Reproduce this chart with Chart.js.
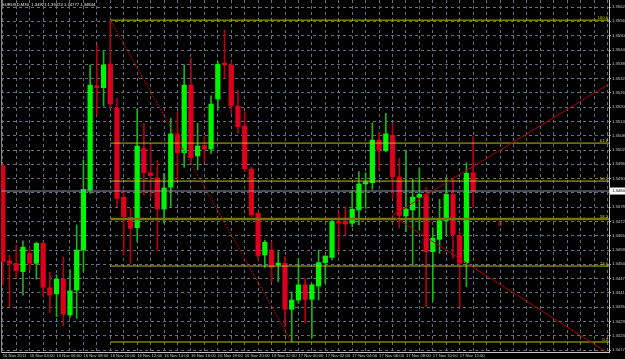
<!DOCTYPE html>
<html><head><meta charset="utf-8">
<style>html,body{margin:0;padding:0;background:#000;overflow:hidden}</style>
<script src="https://cdn.jsdelivr.net/npm/chart.js@4/dist/chart.umd.min.js"></script>
</head><body>
<canvas id="c" width="625" height="359"></canvas>
<script>
const titleText = 'EURUSD,M30  1.34921 1.35074 1.34777 1.34844';
const opens = [1.34950,1.34549,1.34539,1.34504,1.34581,1.34539,1.34623,1.34436,1.34410,1.34472,
1.34321,1.34426,1.34595,1.34848,1.35288,1.35280,1.35380,1.35193,1.34818,1.34733,
1.34689,1.35024,1.34921,1.34900,1.34768,1.34860,1.35085,1.35006,1.35291,1.34992,
1.35035,1.35021,1.35232,1.35383,1.35376,1.35203,1.35118,1.34937,1.34750,1.34574,
1.34595,1.34532,1.34539,1.34345,1.34384,1.34448,1.34387,1.34443,1.34542,1.34564,
1.34715,1.34715,1.34708,1.34764,1.34874,1.34879,1.35059,1.35014,1.35079,1.34904,
1.34739,1.34764,1.34818,1.34830,1.34588,1.34640,1.34719,1.34830,1.34656,1.34542,1.34921];
const highs = [1.34958,1.34574,1.34616,1.34634,1.34604,1.34629,1.34627,1.34501,1.34490,1.34567,
1.34511,1.34701,1.34975,1.35376,1.35460,1.35436,1.35561,1.35235,1.34848,1.34771,
1.35189,1.35130,1.35045,1.34972,1.34919,1.35151,1.35179,1.35376,1.35404,1.35130,
1.35073,1.35246,1.35390,1.35523,1.35390,1.35270,1.35179,1.34945,1.34757,1.34637,
1.34630,1.34588,1.34567,1.34419,1.34560,1.34476,1.34452,1.34595,1.34570,1.34729,
1.34757,1.34778,1.34845,1.34926,1.34921,1.35132,1.35094,1.35172,1.35130,1.34982,
1.35017,1.34895,1.34942,1.34860,1.34689,1.34809,1.34902,1.34900,1.34672,1.34964,1.35074];
const lows = [1.34448,1.34356,1.34477,1.34405,1.34511,1.34472,1.34398,1.34331,1.34314,1.34275,
1.34311,1.34307,1.34504,1.34834,1.35165,1.35203,1.35194,1.34778,1.34574,1.34539,
1.34630,1.34827,1.34820,1.34592,1.34708,1.34778,1.34891,1.34944,1.34962,1.34933,
1.34968,1.35003,1.35186,1.35320,1.35172,1.35088,1.34926,1.34736,1.34553,1.34522,
1.34461,1.34461,1.34272,1.34207,1.34370,1.34288,1.34224,1.34384,1.34455,1.34553,
1.34588,1.34658,1.34693,1.34701,1.34771,1.34851,1.34933,1.35010,1.34813,1.34687,
1.34672,1.34532,1.34680,1.34356,1.34380,1.34581,1.34658,1.34560,1.34356,1.34440,1.34777];
const closes = [1.34546,1.34539,1.34508,1.34607,1.34539,1.34623,1.34438,1.34405,1.34472,1.34324,
1.34423,1.34595,1.34851,1.35291,1.35280,1.35376,1.35211,1.34813,1.34736,1.34687,
1.35034,1.34921,1.34909,1.34768,1.34857,1.35085,1.35006,1.35291,1.34985,1.35034,
1.35021,1.35211,1.35379,1.35376,1.35203,1.35115,1.34937,1.34743,1.34571,1.34628,
1.34522,1.34540,1.34345,1.34384,1.34448,1.34387,1.34448,1.34542,1.34570,1.34715,
1.34708,1.34705,1.34767,1.34874,1.34883,1.35059,1.35017,1.35085,1.34904,1.34741,
1.34768,1.34818,1.34830,1.34588,1.34645,1.34719,1.34830,1.34661,1.34539,1.34919,1.34844];
const timeLabels = ['16 Nov 2011','16 Nov 04:00','16 Nov 06:00','16 Nov 08:00','16 Nov 10:00','16 Nov 12:00',
'16 Nov 14:00','16 Nov 16:00','16 Nov 18:00','16 Nov 20:00','16 Nov 22:00','17 Nov 00:00',
'17 Nov 02:00','17 Nov 04:00','17 Nov 06:00','17 Nov 08:00','17 Nov 10:00','17 Nov 12:00'];
const priceTicks = [1.35620,1.35560,1.35499,1.35439,1.35379,1.35318,1.35258,1.35198,1.35138,1.35077,
1.35017,1.34957,1.34896,1.34836,1.34776,1.34715,1.34655,1.34595,1.34535,1.34474,
1.34414,1.34354,1.34293,1.34233,1.34173];
const fibLevels = [0, 23.6, 38.2, 50, 61.8, 100];
const fibAnchorBars = [16, 43];
const fibAnchorPrices = [1.35565, 1.34207];
const rayApex = [57.93, 1.34740];
const rayUpPoint = [85.91, 1.35221];
const rayDownPoint = [84.68, 1.34258];
const markPoint = [74.0, 1.34705];

const N = opens.length;
const idx = opens.map((_, i) => i);
const isBull = i => closes[i] >= opens[i];
const fibPrice = l => fibAnchorPrices[1] + (fibAnchorPrices[0] - fibAnchorPrices[1]) * l / 100;
const ray = (a, b, toX) => [{x:a[0], y:a[1]}, {x:toX, y:a[1] + (b[1]-a[1])/(b[0]-a[0])*(toX-a[0])}];
const FONT = '"Liberation Sans", Arial, sans-serif';
const GRID = '#627081';

const datasets = [];
datasets.push({
  type:'bar', label:'wick', order:5, grouped:false,
  data: idx.map(i => ({x:i, y:[lows[i], highs[i]]})),
  backgroundColor: idx.map(i => isBull(i) ? '#1cb41c' : '#b4001a'),
  barThickness: 1
});
datasets.push({
  type:'bar', label:'body', order:4, grouped:false,
  data: idx.map(i => ({x:i, y:[opens[i], closes[i]]})),
  backgroundColor: idx.map(i => isBull(i) ? '#00f500' : '#dc001e'),
  barThickness: 4.6, minBarLength: 1
});
fibLevels.forEach(l => {
  const thick = l === 38.2;
  datasets.push({
    type:'line', label:'fib'+l, order:2,
    data:[{x:fibAnchorBars[0], y:fibPrice(l)}, {x:200, y:fibPrice(l)}],
    borderColor: thick ? '#767600' : '#bcbc0c', borderWidth: thick ? 2.6 : 1,
    pointRadius:0
  });
});
datasets.push({
  type:'line', label:'fibline', order:1,
  data: fibAnchorBars.map((b, k) => ({x:b, y:fibAnchorPrices[k]})),
  borderColor:'#b80000', borderWidth:1.2, borderDash:[1.5,1.5], pointRadius:0
});
datasets.push({
  type:'line', label:'bid', order:3,
  data:[{x:-5, y:closes[N-1]}, {x:200, y:closes[N-1]}],
  borderColor:'#8e99a6', borderWidth:1, pointRadius:0
});
datasets.push({
  type:'line', label:'rayUp', order:1, data: ray(rayApex, rayUpPoint, 120),
  borderColor:'#b00000', borderWidth:1, pointRadius:0
});
datasets.push({
  type:'line', label:'rayDown', order:1, data: ray(rayApex, rayDownPoint, 120),
  borderColor:'#b00000', borderWidth:1, pointRadius:0
});
datasets.push({
  type:'scatter', label:'mark', order:1, data:[{x:markPoint[0], y:markPoint[1]}],
  pointStyle:'circle', pointRadius:1.6, borderColor:'#c00000', borderWidth:1, backgroundColor:'transparent'
});

const overlay = {
  id:'overlay',
  afterDatasetsDraw(chart){
    const {ctx, chartArea:a, scales:{y}} = chart;
    ctx.save();
    ctx.beginPath(); ctx.rect(a.left, a.top, a.right-a.left, a.bottom-a.top); ctx.clip();
    ctx.font = '4.2px ' + FONT;
    ctx.fillStyle = '#d0d000';
    ctx.textAlign = 'right'; ctx.textBaseline = 'bottom';
    fibLevels.forEach(l => {
      ctx.fillText(l.toFixed(1), a.right - 1, y.getPixelForValue(fibPrice(l)) - 0.5);
    });
    ctx.restore();
  },
  afterDraw(chart){
    const {ctx, chartArea:a, scales:{y}} = chart;
    ctx.save();
    ctx.font = '4.2px ' + FONT;
    ctx.fillStyle = '#e8e8e8';
    ctx.textAlign = 'left'; ctx.textBaseline = 'middle';
    ctx.fillText(titleText, 2, 5);
    const py = y.getPixelForValue(closes[N-1]);
    ctx.fillStyle = '#ffffff';
    ctx.fillRect(a.right + 1, py - 3.5, 30, 7);
    ctx.fillStyle = '#000000';
    ctx.fillText(closes[N-1].toFixed(4), a.right + 3, py + 0.3);
    ctx.restore();
  }
};

new Chart(document.getElementById('c'), {
  type:'bar',
  data:{datasets},
  plugins:[overlay],
  options:{
    responsive:false, animation:false, events:[],
    layout:{padding:0, autoPadding:false},
    plugins:{legend:{display:false}, tooltip:{enabled:false}, title:{display:false}},
    scales:{
      x:{
        type:'linear', position:'bottom', min:-0.267, max:90.22, offset:false,
        afterBuildTicks(s){ const t=[]; for(let v=0; v<=90; v+=2) t.push({value:v}); s.ticks=t; },
        afterFit(s){ s.height = 7; s.paddingLeft = 0; s.paddingRight = 0; },
        grid:{color:GRID, lineWidth:1, drawTicks:false, offset:false},
        border:{display:true, color:'#c8c8c8', width:1, dash:[3,3]},
        ticks:{
          autoSkip:false, maxRotation:0, minRotation:0, align:'start', padding:1,
          color:'#c8c8c8', font:{size:4.2, family:FONT},
          callback(v){ return (v % 4 === 0 && v/4 < timeLabels.length) ? timeLabels[v/4] : ''; }
        }
      },
      y:{
        type:'linear', position:'right', min:1.341648, max:1.35650,
        afterBuildTicks(s){ s.ticks = priceTicks.map(v => ({value:v})); },
        afterFit(s){ s.width = 16; s.paddingTop = 0; s.paddingBottom = 0; },
        grid:{color:GRID, lineWidth:1, tickLength:2, tickColor:'#9a9a9a'},
        border:{display:true, color:'#c8c8c8', width:1, dash:[3,3]},
        ticks:{
          padding:1, color:'#c8c8c8', font:{size:4.2, family:FONT},
          callback(v){ return Number(v).toFixed(4); }
        }
      },
      yl:{
        type:'linear', position:'left', display:true,
        afterFit(s){ s.width = 1; s.paddingTop = 0; s.paddingBottom = 0; },
        grid:{display:false, drawTicks:false},
        ticks:{display:false},
        border:{display:true, color:'#8a8a8a', width:1}
      }
    }
  }
});
</script>
</body></html>
